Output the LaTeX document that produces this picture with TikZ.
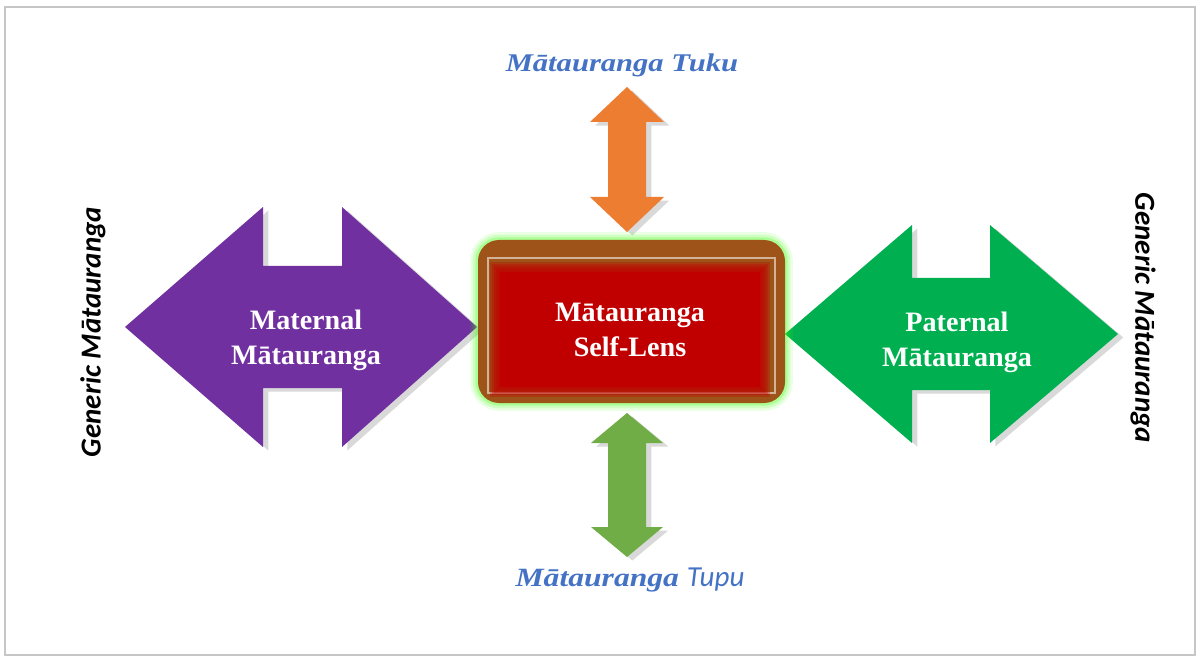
\documentclass[tikz,border=0pt]{standalone}
\usepackage{fontspec}
\setmainfont{Liberation Serif}
\newfontfamily\calibri{Carlito}
\newfontfamily\widefont[FakeStretch=1.2]{Liberation Serif}
\usetikzlibrary{shadows}
\definecolor{matpurple}{HTML}{7030A0}
\definecolor{patgreen}{HTML}{00B050}
\definecolor{tukuorange}{HTML}{ED7D31}
\definecolor{tupugreen}{HTML}{70AD47}
\definecolor{lensbrown}{HTML}{9E5418}
\definecolor{lensred}{HTML}{C00000}
\definecolor{labelblue}{HTML}{4472C4}
\tikzset{arrowshape/.style={drop shadow={shadow xshift=3pt, shadow yshift=-2pt, opacity=.3}},
arrowtext/.style={text=white, align=center, font=\bfseries\fontsize{16}{20}\selectfont},
sidetext/.style={font=\calibri\bfseries\itshape\fontsize{16.5}{19}\selectfont},
flowtext/.style={text=labelblue, font=\widefont\bfseries\itshape\fontsize{14.5}{17}\selectfont}}

\begin{document}
\begin{tikzpicture}[x=0.02cm, y=-0.02cm]
        \useasboundingbox (0,0) rectangle (1196,658);
        \draw[gray!45, line width=1.2pt] (5,7) rectangle (1195,655);

        % side arrows
        \fill[matpurple, arrowshape] (125,327) -- (263,207) -- (263,266) -- (342,266) -- (342,207) -- (477,327)
              -- (342,447) -- (342,388) -- (263,388) -- (263,447) -- cycle;
        \fill[patgreen, arrowshape] (785,334) -- (912,225) -- (912,278) -- (990,278) -- (990,225) -- (1118,334)
              -- (990,443) -- (990,390) -- (912,390) -- (912,443) -- cycle;

        % vertical arrows
        \fill[tukuorange, arrowshape] (627,87) -- (664,122) -- (646,122) -- (646,197) -- (664,197) -- (627,232)
              -- (590,197) -- (608,197) -- (608,122) -- (590,122) -- cycle;
        \fill[tupugreen, arrowshape] (627,413) -- (663,443) -- (646,443) -- (646,527) -- (663,527) -- (627,557)
              -- (591,527) -- (608,527) -- (608,443) -- (591,443) -- cycle;

        % self-lens box
        \foreach \w/\o in {9/0.10, 6/0.15, 3/0.25}
            \draw[green!70!lime, line width=\w pt, opacity=\o, rounded corners=12pt] (478,240) rectangle (785,403);
        \fill[lensbrown, rounded corners=12pt] (478,240) rectangle (785,403);
        \draw[lensbrown!45!white, line width=0.6pt] (488,258) rectangle (775,393);
        \foreach \i in {0,...,5}
            \fill[lensred, opacity=0.3] ({500-2*\i},{272-2*\i}) rectangle ({760+2*\i},{387+2*\i});
        \fill[lensred] (500,272) rectangle (760,387);

        \node[arrowtext] (mat) at (306,340) {Maternal\\Mātauranga};
        \node[arrowtext] (pat) at (957,342) {Paternal\\Mātauranga};
        \node[arrowtext] (lens) at (630,330) {Mātauranga\\Self-Lens};

        \node[flowtext] (tuku) at (622,65) {Mātauranga Tuku};
        \node[flowtext, font=\widefont\bfseries\itshape\fontsize{15}{17}\selectfont] (tupu) at (630,580)
              {Mātauranga {\calibri\mdseries\fontsize{16.5}{19}\selectfont Tupu}};

        \node[sidetext, rotate=90] (genl) at (93,332) {Generic Mātauranga};
        \node[sidetext, rotate=-90] (genr) at (1143,318) {Generic Mātauranga};
    \end{tikzpicture}
\end{document}
